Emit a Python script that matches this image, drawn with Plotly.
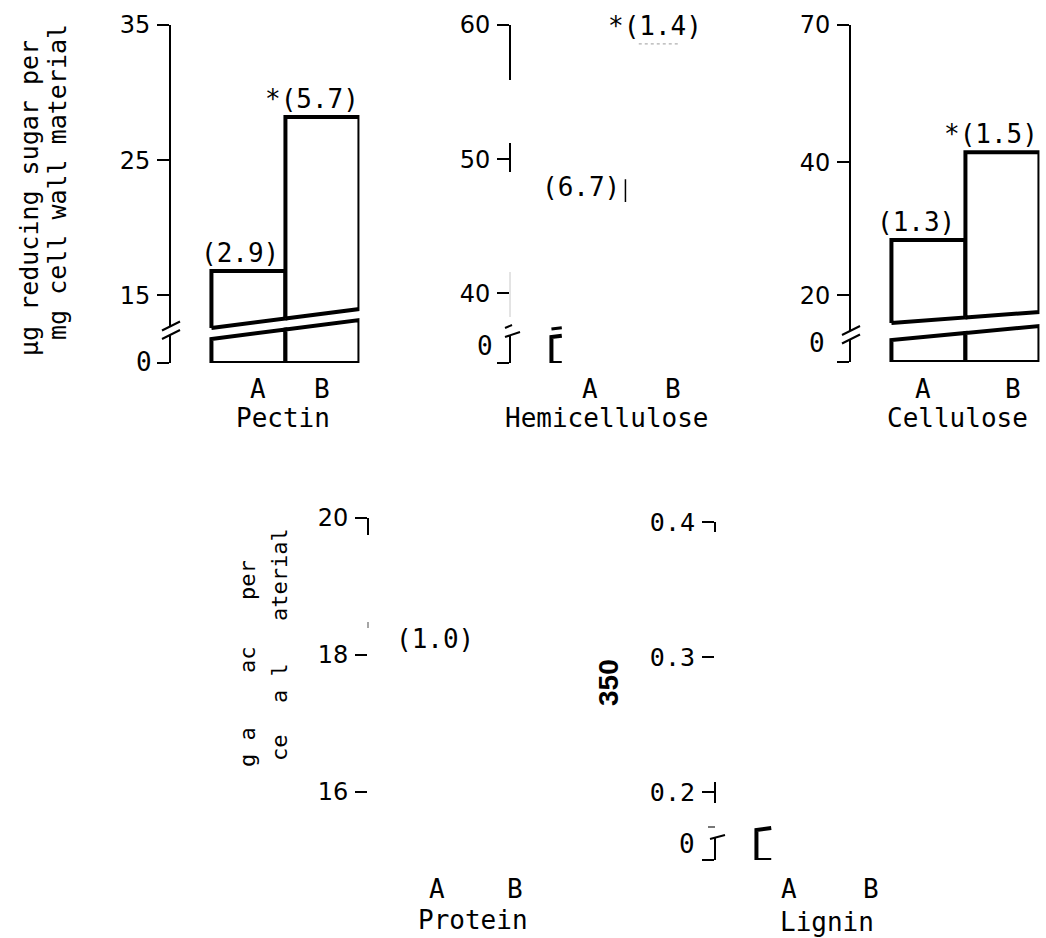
import plotly.graph_objects as go

W, H = 1046, 938

# ---------------- data ----------------
groups = ["A", "B"]

pectin_sugar = [16.8, 28.2]
hemicellulose_sugar = [46.6, 58.6]
cellulose_sugar = [28.3, 41.5]
protein_amino = [17.97, 20.1]

pectin_se = ["(2.9)", "*(5.7)"]
hemicellulose_se = ["(6.7)", "*(1.4)"]
cellulose_se = ["(1.3)", "*(1.5)"]
protein_se = ["(1.0)", "(0.1)"]

pectin_ticks = [15, 25, 35]
pectin_ticktext = ["15", "25", "35"]
hemicellulose_ticks = [40, 50, 60]
hemicellulose_ticktext = ["40", "50", "60"]
cellulose_ticks = [20, 40, 60.6]
cellulose_ticktext = ["20", "40", "70"]
protein_ticks = [16, 18, 20]
protein_ticktext = ["16", "18", "20"]
lignin_ticks = [0.2, 0.3, 0.4]
lignin_ticktext = ["0.2", "0.3", "0.4"]

# ---------------- style ----------------
MONO = "DejaVu Sans Mono"
SANS = "DejaVu Sans"
BAR_W = 74          # px per bar
OFF = 0.56          # gap between axis line and first bar, in bar widths
LINE = "black"

panels = [
    dict(name="Pectin", vals=pectin_sugar, se=pectin_se, se_dx=[-8, -10],
         ticks=pectin_ticks, ticktext=pectin_ticktext, yr=(10, 35),
         axis_x=170, bottom=363, top=25, draw_bars=True, base_tick=True,
         ub=(35, 54), lb=(24, 43), brk=(36.5, 28), tickfont=SANS,
         zero=(143.5, 362), cat_y=389, title_y=418, cat_dx=[10, 0], title_dx=-2),
    dict(name="Hemicellulose", vals=hemicellulose_sugar, se=hemicellulose_se, se_dx=[-7, -7],
         ticks=hemicellulose_ticks, ticktext=hemicellulose_ticktext, yr=(34.8, 60),
         axis_x=510, bottom=363, top=25, draw_bars=False, base_tick=True,
         ub=(33, 52), lb=(26, 45), brk=(37, 28), tickfont=SANS,
         zero=(484.5, 346), cat_y=389, title_y=418, cat_dx=[2, 11], title_dx=-18),
    dict(name="Cellulose", vals=cellulose_sugar, se=cellulose_se, se_dx=[-12, -11],
         ticks=cellulose_ticks, ticktext=cellulose_ticktext, yr=(10, 60.6),
         axis_x=850, bottom=362, top=25, draw_bars=True, base_tick=True,
         ub=(39, 50), lb=(22, 36), brk=(31, 22.5), tickfont=SANS,
         zero=(816.5, 343), cat_y=389, title_y=418, cat_dx=[-5, 11], title_dx=-8),
    dict(name="Protein", vals=protein_amino, se=protein_se, se_dx=[-11, -18],
         ticks=protein_ticks, ticktext=protein_ticktext, yr=(15, 20),
         axis_x=368, bottom=860, top=518, draw_bars=False, base_tick=False,
         ub=(33, 52), lb=(26, 45), brk=(33, 23), tickfont=SANS,
         zero=None, cat_y=889, title_y=920, cat_dx=[-9, -5], title_dx=-10),
    dict(name="Lignin", vals=None, se=None, se_dx=None,
         ticks=lignin_ticks, ticktext=lignin_ticktext, yr=(0.1496, 0.4),
         axis_x=715, bottom=860, top=522, draw_bars=False, base_tick=True,
         ub=(37, 56), lb=(30, 49), brk=(33, 23), tickfont=MONO,
         zero=(686.5, 844), cat_y=889, title_y=922, cat_dx=[-4, 4], title_dx=-3),
]

fig = go.Figure()
shapes = []
annotations = []
layout = {}


def vy(p, dpx):
    """Axis value sitting dpx pixels above the panel's base line."""
    y0, y1 = p["yr"]
    return y0 + dpx * (y1 - y0) / (p["bottom"] - p["top"])


def dom_x(dpx):
    """Offset of dpx pixels from the axis line, in x-domain fraction."""
    return dpx / ((OFF + 2) * BAR_W)


def seg(p, v0, v1, width=2, color=LINE):
    shapes.append(dict(type="line", xref=p["xd"], yref=p["yref"], x0=0, x1=0,
                       y0=v0, y1=v1, line=dict(color=color, width=width)))


def slash(p, x0px, x1px, d0, d1, width=2, color=LINE):
    shapes.append(dict(type="line", xref=p["xd"], yref=p["yref"],
                       x0=dom_x(x0px), x1=dom_x(x1px), y0=vy(p, d0), y1=vy(p, d1),
                       line=dict(color=color, width=width)))


def poly(p, xs, ys, width=4, fill=True):
    fig.add_trace(go.Scatter(
        x=xs, y=ys, xaxis=p["xa"], yaxis=p["ya"], mode="lines",
        fill="toself" if fill else None, fillcolor="white",
        line=dict(color=LINE, width=width), hoverinfo="skip", showlegend=False))


def label(text, x, y, font, angle=0, **kw):
    annotations.append(dict(text=text, x=x, y=y, showarrow=False, textangle=angle,
                            xanchor="center", yanchor="middle", font=font, **kw))


mono = dict(family=MONO, size=26, color="black")

for k, p in enumerate(panels):
    n = "" if k == 0 else str(k + 1)
    p["xa"], p["ya"] = "x" + n, "y" + n
    p["xd"], p["yref"] = "x" + n + " domain", "y" + n
    x_left = p["axis_x"]
    x_right = x_left + (OFF + 2) * BAR_W
    base = p["yr"][0]

    layout["xaxis" + n] = dict(domain=[x_left / W, x_right / W], range=[-OFF, 2],
                               visible=False, anchor="y" + n, fixedrange=True,
                               automargin=False)
    tickvals = ([base] if p["base_tick"] else []) + p["ticks"]
    ticktext = ([""] if p["base_tick"] else []) + p["ticktext"]
    tfont = dict(family=p["tickfont"], size=24 if p["tickfont"] == SANS else 25, color="black")
    layout["yaxis" + n] = dict(
        domain=[1 - p["bottom"] / H, 1 - p["top"] / H], range=list(p["yr"]),
        anchor="x" + n, showline=False, showgrid=False, zeroline=False,
        tickmode="array", tickvals=tickvals, ticktext=ticktext,
        ticks="outside", ticklen=12, tickwidth=2, tickcolor=LINE,
        ticklabelstandoff=2, automargin=False, tickfont=tfont,
        fixedrange=True)

    # slanted break edges of the bars
    def ub(x, p=p):
        return vy(p, p["ub"][0] + (p["ub"][1] - p["ub"][0]) * x / 2)

    def lb(x, p=p):
        return vy(p, p["lb"][0] + (p["lb"][1] - p["lb"][0]) * x / 2)

    if p["draw_bars"]:
        for i, v in enumerate(p["vals"]):
            poly(p, [i, i, i + 1, i + 1, i], [base, lb(i), lb(i + 1), base, base])
        for i, v in enumerate(p["vals"]):
            poly(p, [i, i, i + 1, i + 1, i], [ub(i), v, v, ub(i + 1), ub(i)])
        # axis with a break
        seg(p, p["yr"][1], vy(p, p["brk"][0]))
        seg(p, base, vy(p, p["brk"][1]))
        for d in p["brk"]:
            slash(p, -8, 10, d - 4, d + 5)

    # category letters and group name
    for i, g in enumerate(groups):
        label(g, i + 0.5, 1 - p["cat_y"] / H, mono, xref=p["xa"], yref="paper",
              xshift=p["cat_dx"][i])
    label(p["name"], 1.0, 1 - p["title_y"] / H, mono, xref=p["xa"], yref="paper",
          xshift=p["title_dx"])

    # standard-error labels above the bars
    if p["se"]:
        for i, (v, s) in enumerate(zip(p["vals"], p["se"])):
            label(s, i + 0.5, v, mono, xref=p["xa"], yref=p["ya"],
                  xshift=p["se_dx"][i], yshift=18)
    if p["zero"]:
        label("0", p["zero"][0] / W, 1 - p["zero"][1] / H, mono, xref="paper", yref="paper")

# ---- remaining visible pieces of the hemicellulose panel ----
hp = panels[1]
seg(hp, 60, vy(hp, 363 - 80))
seg(hp, vy(hp, 363 - 143), vy(hp, 363 - 172))
seg(hp, vy(hp, 363 - 272), vy(hp, 363 - 317), width=1, color="#c8c8c8")
seg(hp, hp["yr"][0], vy(hp, hp["brk"][1]))
slash(hp, -5, 2, hp["brk"][0] - 2, hp["brk"][0] + 1)
slash(hp, -5, 10, hp["brk"][1] - 2, hp["brk"][1] + 3)
hb = hp["yr"][0]
poly(hp, [0.14, 0, 0, 0.14], [hb, hb, vy(hp, hp["lb"][0]), vy(hp, hp["lb"][0] + 1.3)], width=4, fill=False)
poly(hp, [0, 0.14], [vy(hp, hp["ub"][0] + 1), vy(hp, hp["ub"][0] + 2.3)], width=3, fill=False)
poly(hp, [1, 1], [hemicellulose_sugar[0] + 0.2, hemicellulose_sugar[0] + 1.9], width=1.5, fill=False)
fig.add_trace(go.Scatter(x=[1.18, 1.71], y=[hemicellulose_sugar[1]] * 2, xaxis=hp["xa"], yaxis=hp["ya"],
                         mode="lines", line=dict(color="#b0b0b0", width=1.2, dash="dot"),
                         hoverinfo="skip", showlegend=False))

# ---- protein panel: only the top of the axis remains ----
pp = panels[3]
seg(pp, 20, vy(pp, 860 - 535))
seg(pp, vy(pp, 860 - 622), vy(pp, 860 - 628), width=1.5, color="#888888")

# ---- lignin panel ----
lp = panels[4]
lb0 = lp["yr"][0]
seg(lp, 0.4, vy(lp, 860 - 532))
seg(lp, vy(lp, 860 - 782), vy(lp, 860 - 803))
seg(lp, lb0, vy(lp, lp["brk"][1]))
slash(lp, -7, 0, lp["brk"][0], lp["brk"][0], color="#777777")
slash(lp, -5, 10, lp["brk"][1] - 2, lp["brk"][1] + 2)
poly(lp, [0.2, 0, 0, 0.2], [lb0, lb0, vy(lp, lp["lb"][0]), vy(lp, lp["lb"][0] + 2)], width=4, fill=False)

# ---- y-axis titles ----
title_font = dict(family=MONO, size=25, color="black")
label("µg reducing sugar per", 29 / W, 1 - 198 / H, title_font, angle=-90, xref="paper", yref="paper")
label("mg cell wall material", 57 / W, 1 - 182 / H, title_font, angle=-90, xref="paper", yref="paper")

frag_font = dict(family=MONO, size=22, color="black")
for txt, xx, yy in [("per", 247, 580), ("ac", 247, 660), ("g a", 247, 747),
                    ("aterial", 279, 575), ("a l", 279, 683), ("ce", 279, 748)]:
    label(txt, xx / W, 1 - yy / H, frag_font, angle=-90, xref="paper", yref="paper")

label("350", 608 / W, 1 - 683 / H,
      dict(family="Liberation Sans Narrow, Liberation Sans", size=28, color="black", weight="bold"),
      angle=-90, xref="paper", yref="paper")

fig.update_layout(
    template="none",
    width=W, height=H, margin=dict(l=0, r=0, t=0, b=0, autoexpand=False),
    paper_bgcolor="white", plot_bgcolor="white", showlegend=False,
    font=dict(family=MONO, color="black"),
    shapes=shapes, annotations=annotations, **layout)

fig.write_html("out.html")
